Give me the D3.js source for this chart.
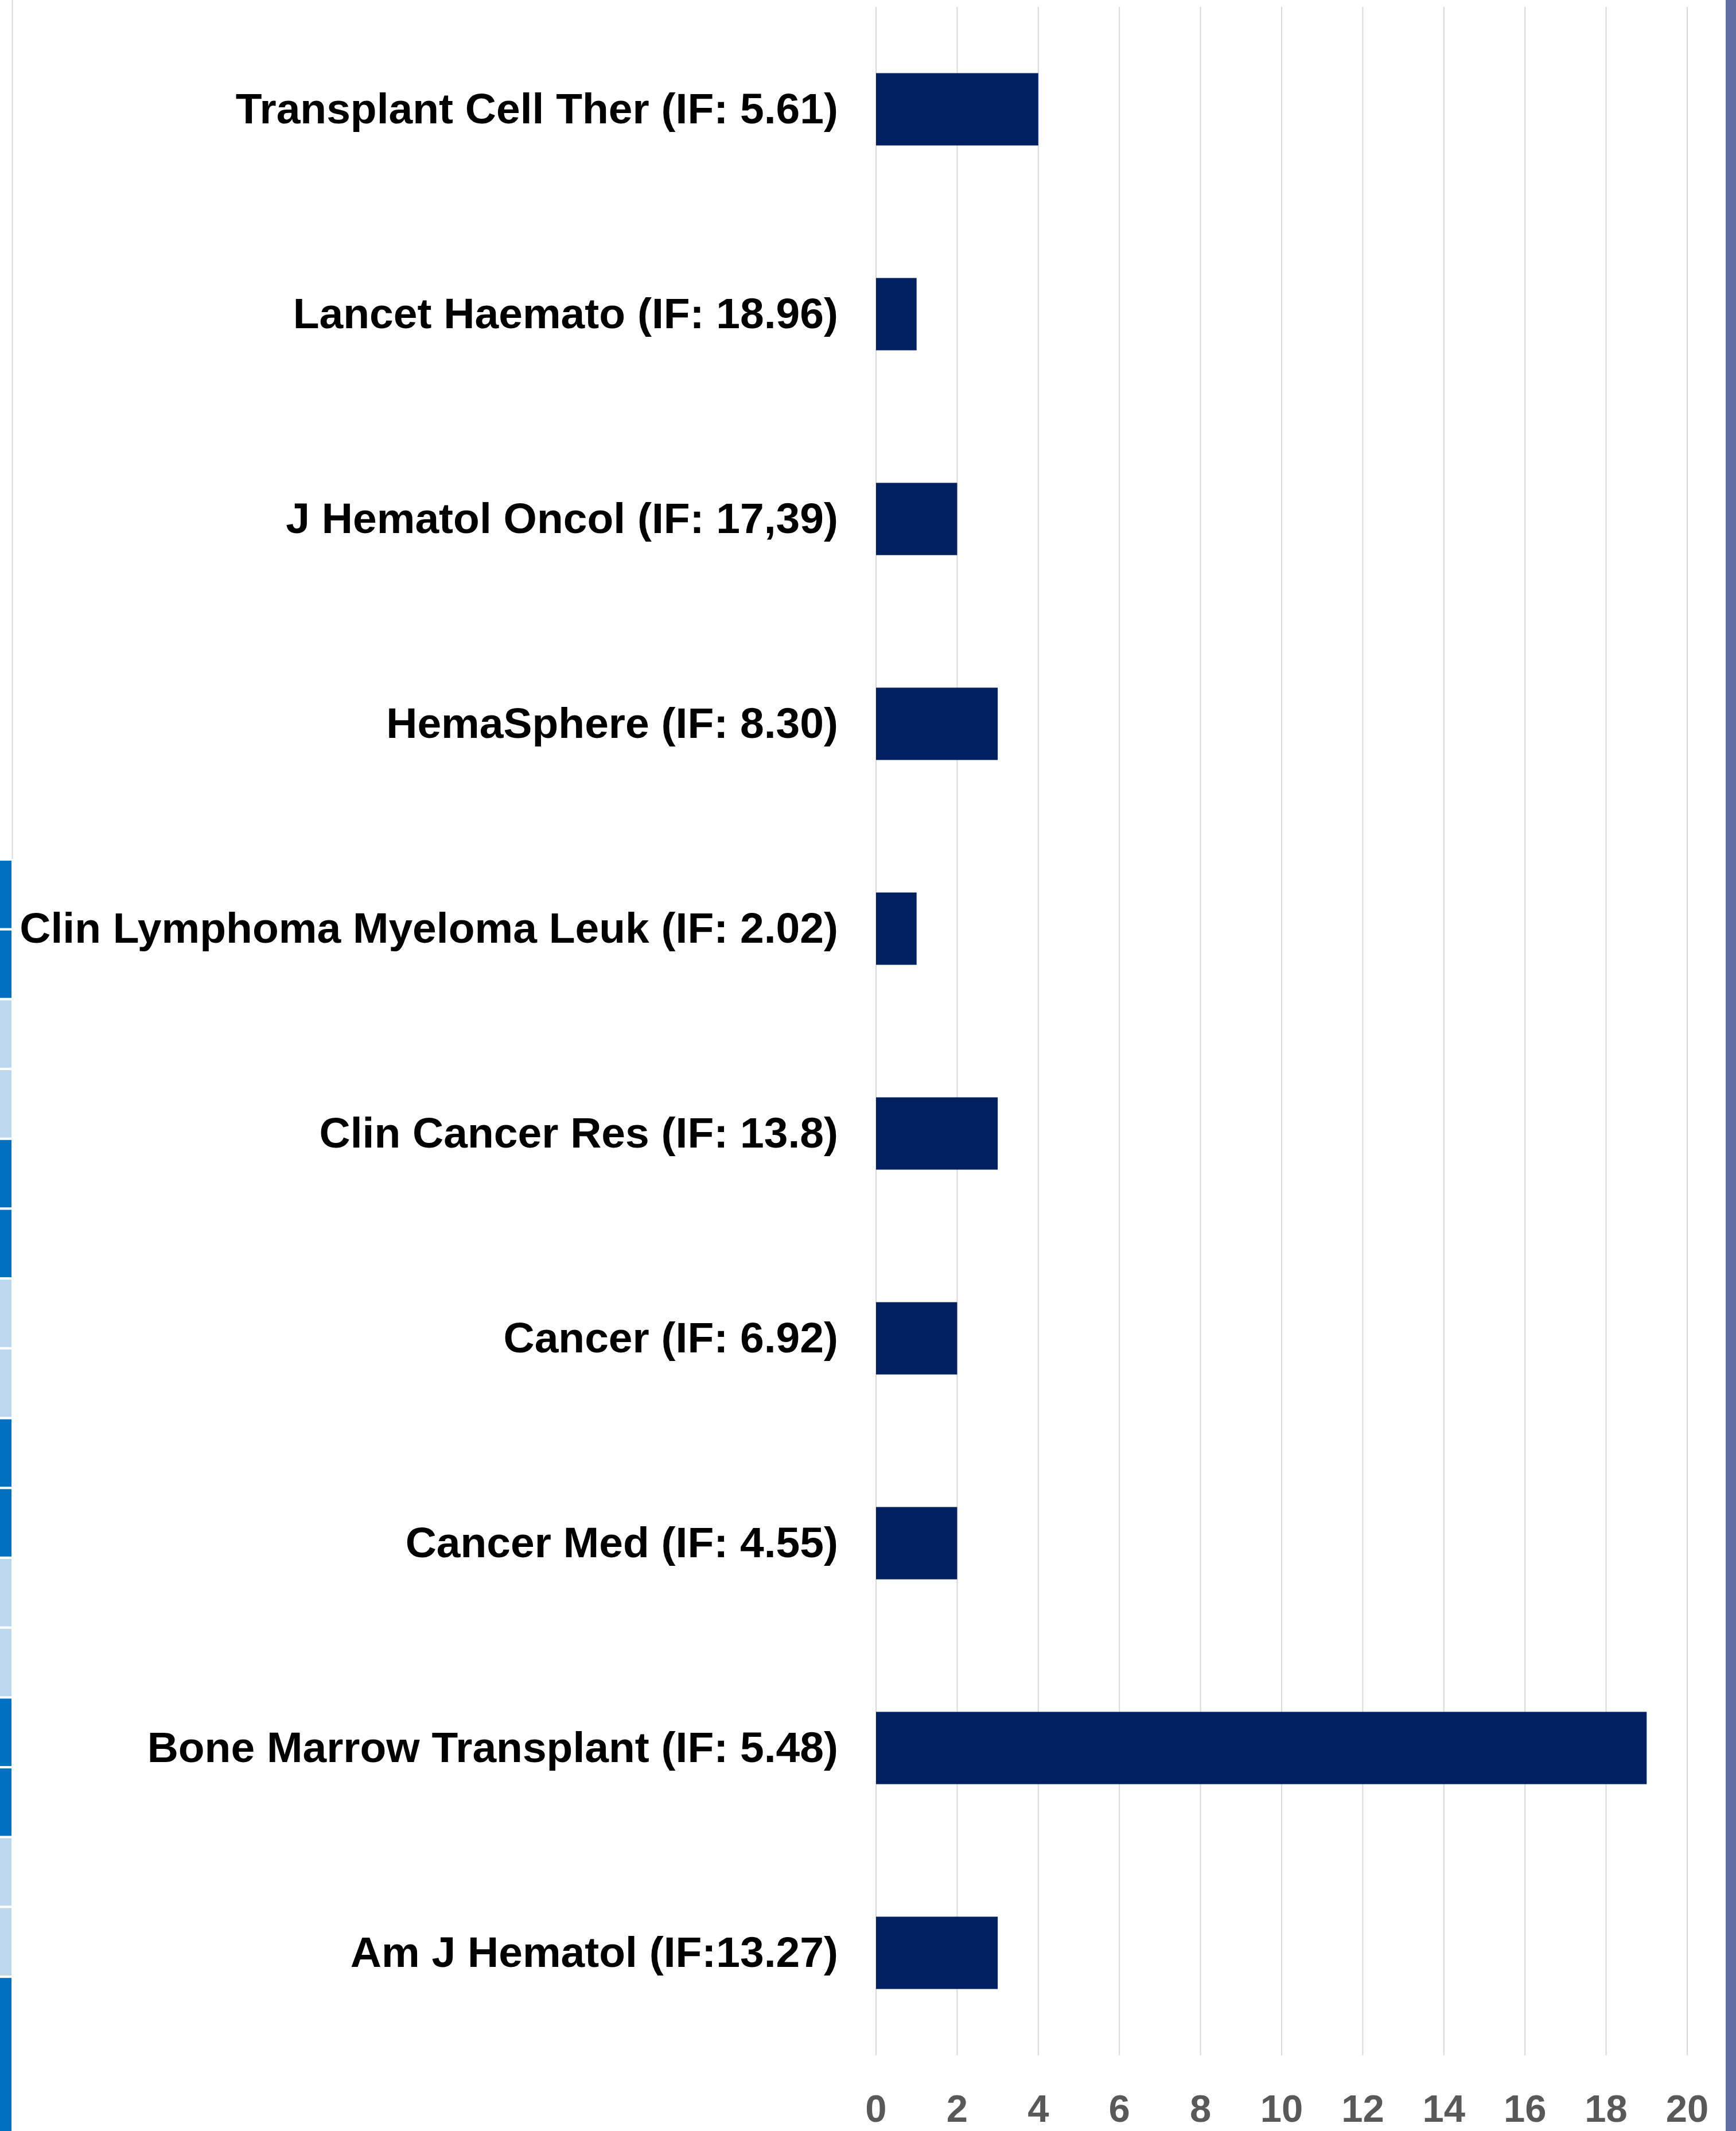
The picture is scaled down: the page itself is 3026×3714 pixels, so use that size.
<!DOCTYPE html>
<html>
<head>
<meta charset="utf-8">
<script src="https://cdn.jsdelivr.net/npm/d3@7"></script>
<style>
  html, body { margin: 0; padding: 0; background: #ffffff; }
  svg { display: block; }
</style>
</head>
<body>
<script>
// ---- Data ----
const categories = [
  "Transplant Cell Ther (IF: 5.61)",
  "Lancet Haemato (IF: 18.96)",
  "J Hematol Oncol (IF: 17,39)",
  "HemaSphere (IF: 8.30)",
  "Clin Lymphoma Myeloma Leuk (IF: 2.02)",
  "Clin Cancer Res (IF: 13.8)",
  "Cancer (IF: 6.92)",
  "Cancer Med (IF: 4.55)",
  "Bone Marrow Transplant (IF: 5.48)",
  "Am J Hematol (IF:13.27)"
];
const values = [4, 1, 2, 3, 1, 3, 2, 2, 19, 3];
const xTicks = [0, 2, 4, 6, 8, 10, 12, 14, 16, 18, 20];
// decorative side strip pattern (1 = dark, 0 = light)
const stripPattern = [1,1,0,0,1,1,0,0,1,1,0,0,1,1,0,0,1,1];

// ---- Layout ----
const W = 3026, H = 3714;
const svg = d3.select("body").append("svg").attr("width", W).attr("height", H);

const x = d3.scaleLinear().domain([0, 20]).range([1527, 2941]);
const y = d3.scaleBand().domain(categories).range([12, 3582])
  .paddingInner(0.647).paddingOuter(0.3235);

// left thin line
svg.append("line").attr("x1", 21.5).attr("x2", 21.5).attr("y1", 0).attr("y2", 1497)
  .attr("stroke", "#d9d9d9").attr("stroke-width", 2);

// left strip blocks
const pitch = 121.7;
svg.append("g").selectAll("rect").data(stripPattern).join("rect")
  .attr("x", 0).attr("width", 20)
  .attr("y", (d, i) => 1500 + i * pitch + (i === 17 ? 46 : 0))
  .attr("height", (d, i) => i === 16 ? 168 : (i === 17 ? 200 : 117.5))
  .attr("fill", d => d ? "#0070c0" : "#bdd7ee");

// right bar
svg.append("rect").attr("x", 3008).attr("y", 0).attr("width", 18).attr("height", H)
  .attr("fill", "#5e6ea3");

// gridlines
svg.append("g").selectAll("line").data(xTicks).join("line")
  .attr("x1", d => x(d)).attr("x2", d => x(d))
  .attr("y1", 12).attr("y2", 3582)
  .attr("stroke", "#d9d9d9").attr("stroke-width", 2);

// bars
svg.append("g").selectAll("rect").data(values).join("rect")
  .attr("x", x(0))
  .attr("y", (d, i) => y(categories[i]))
  .attr("width", d => x(d) - x(0))
  .attr("height", y.bandwidth())
  .attr("fill", "#002060");

// category labels
svg.append("g").selectAll("text").data(categories).join("text")
  .attr("x", 1461)
  .attr("y", d => y(d) + y.bandwidth() / 2 + 24)
  .attr("text-anchor", "end")
  .attr("font-family", "'Liberation Sans', Arial, sans-serif")
  .attr("font-weight", "bold")
  .attr("font-size", 75)
  .attr("fill", "#000000")
  .text(d => d);

// x tick labels
svg.append("g").selectAll("text").data(xTicks).join("text")
  .attr("x", d => x(d))
  .attr("y", 3698)
  .attr("text-anchor", "middle")
  .attr("font-family", "'Liberation Sans Narrow', 'Arial Narrow', 'Liberation Sans', sans-serif")
  .attr("font-weight", "bold")
  .attr("font-size", 67)
  .attr("fill", "#595959")
  .text(d => d);
</script>
</body>
</html>
